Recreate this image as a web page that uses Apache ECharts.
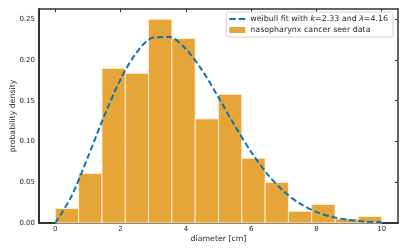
<!DOCTYPE html>
<html><head><meta charset="utf-8">
<script src="https://cdn.jsdelivr.net/npm/echarts@6/dist/echarts.min.js"></script>
<style>html,body{margin:0;padding:0;background:#fff}#c{width:407px;height:252px}</style>
</head><body><div id="c"></div>
<script>
// histogram bins (diameter, cm)
var binEdges = [0, 0.714, 1.429, 2.143, 2.857, 3.571, 4.286, 5.0, 5.714, 6.429, 7.143, 7.857, 8.571, 9.286, 10];
var binHeights = [0.0177, 0.0608, 0.1897, 0.1835, 0.2500, 0.2262, 0.1277, 0.1580, 0.0793, 0.0497, 0.0144, 0.0227, 0.0050, 0.0079];
// weibull fit curve, read at x points
var fitX = [0, 0.5, 1, 1.5, 2, 2.5, 3, 3.5, 4, 4.5, 5, 5.5, 6, 6.5, 7, 7.5, 8, 8.5, 9, 9.5, 10];
var fitY = [0, 0.0332, 0.0811, 0.1314, 0.1763, 0.2097, 0.2274, 0.2281, 0.2134, 0.1872, 0.1541, 0.1194, 0.0872, 0.0599, 0.0388, 0.0237, 0.0136, 0.0073, 0.0037, 0.0018, 0.0008];
var xTicks = [0, 2, 4, 6, 8, 10];
var yTicks = [0, 0.05, 0.10, 0.15, 0.20, 0.25];

var barData = binHeights.map(function(h, i){ return [binEdges[i], binEdges[i+1], h]; });
var lineData = fitX.map(function(x, i){ return [x, fitY[i]]; });

var font = 'DejaVu Sans';
var txt = '#262626';
var chart = echarts.init(document.getElementById('c'), null, {renderer: 'canvas'});
chart.setOption({
  animation: false,
  backgroundColor: '#fff',
  grid: {left: 39, right: 9, top: 9, bottom: 29, containLabel: false, outerBoundsMode: 'none'},
  xAxis: [{
    type: 'value', min: -0.5, max: 10.5, position: 'bottom',
    name: 'diameter [cm]', nameLocation: 'middle', nameGap: 12, nameMoveOverlap: false,
    nameTextStyle: {fontFamily: font, fontSize: 7.8, color: txt},
    axisLine: {show: true, onZero: false, lineStyle: {color: '#333', width: 2}},
    axisTick: {show: false},
    splitLine: {show: false},
    axisLabel: {customValues: xTicks, fontFamily: font, fontSize: 7, color: txt, margin: 3}
  }, {
    type: 'value', min: -0.5, max: 10.5, position: 'top',
    axisLine: {show: true, onZero: false, lineStyle: {color: '#333', width: 1.5}},
    axisTick: {show: true, inside: true, length: 3, customValues: xTicks, lineStyle: {color: '#333', width: 1}},
    axisLabel: {show: false}, splitLine: {show: false}
  }],
  yAxis: [{
    type: 'value', min: 0, max: 0.2625, position: 'left',
    name: 'probability density', nameLocation: 'middle', nameGap: 22, nameMoveOverlap: false,
    nameTextStyle: {fontFamily: font, fontSize: 7.8, color: txt},
    axisLine: {show: true, onZero: false, lineStyle: {color: '#333', width: 2}},
    axisTick: {show: false},
    splitLine: {show: false},
    axisLabel: {customValues: yTicks, fontFamily: font, fontSize: 7, color: txt, margin: 4,
      formatter: function(v){ return v.toFixed(2); }}
  }, {
    type: 'value', min: 0, max: 0.2625, position: 'right',
    axisLine: {show: true, onZero: false, lineStyle: {color: '#333', width: 1.5}},
    axisTick: {show: true, inside: true, length: 3, customValues: yTicks, lineStyle: {color: '#333', width: 1}},
    axisLabel: {show: false}, splitLine: {show: false}
  }],
  legend: {
    orient: 'vertical', right: 14, top: 12, align: 'left',
    backgroundColor: '#fff', borderColor: '#d4d4d4', borderWidth: 1, borderRadius: 2,
    padding: [3, 5, 3, 3], itemGap: 3, itemWidth: 16, itemHeight: 6,
    textStyle: {fontFamily: font, fontSize: 7.9, color: txt,
      rich: {i: {fontFamily: font, fontStyle: 'italic', fontSize: 7.9, color: txt}}},
    formatter: function(name){
      if (name.indexOf('weibull') === 0) return 'weibull fit with {i|k}=2.33 and {i|λ}=4.16';
      return name;
    },
    data: [
      {name: 'weibull fit with k=2.33 and λ=4.16', icon: 'path://M0,0 h6.5 v2 h-6.5 z M9.5,0 h6.5 v2 h-6.5 z', itemStyle: {color: '#1372b2'}},
      {name: 'nasopharynx cancer seer data', icon: 'rect', itemStyle: {color: '#e6a538'}}
    ]
  },
  series: [{
    name: 'nasopharynx cancer seer data',
    type: 'custom',
    xAxisIndex: 0, yAxisIndex: 0,
    itemStyle: {color: '#e6a538'},
    encode: {x: [0, 1], y: 2},
    data: barData,
    z: 2,
    renderItem: function(params, api){
      var p0 = api.coord([api.value(0), api.value(2)]);
      var p1 = api.coord([api.value(1), 0]);
      return {type: 'rect',
        shape: {x: p0[0], y: p0[1], width: p1[0] - p0[0], height: p1[1] - p0[1]},
        style: {fill: '#e6a538', stroke: 'rgba(255,240,215,0.9)', lineWidth: 1}};
    }
  }, {
    name: 'weibull fit with k=2.33 and λ=4.16',
    type: 'line', xAxisIndex: 0, yAxisIndex: 0,
    data: lineData, smooth: 0.3, showSymbol: false, symbol: 'none',
    lineStyle: {color: '#1372b2', width: 2, type: [6, 3]},
    itemStyle: {color: '#1372b2'},
    z: 5
  }]
});
</script></body></html>
